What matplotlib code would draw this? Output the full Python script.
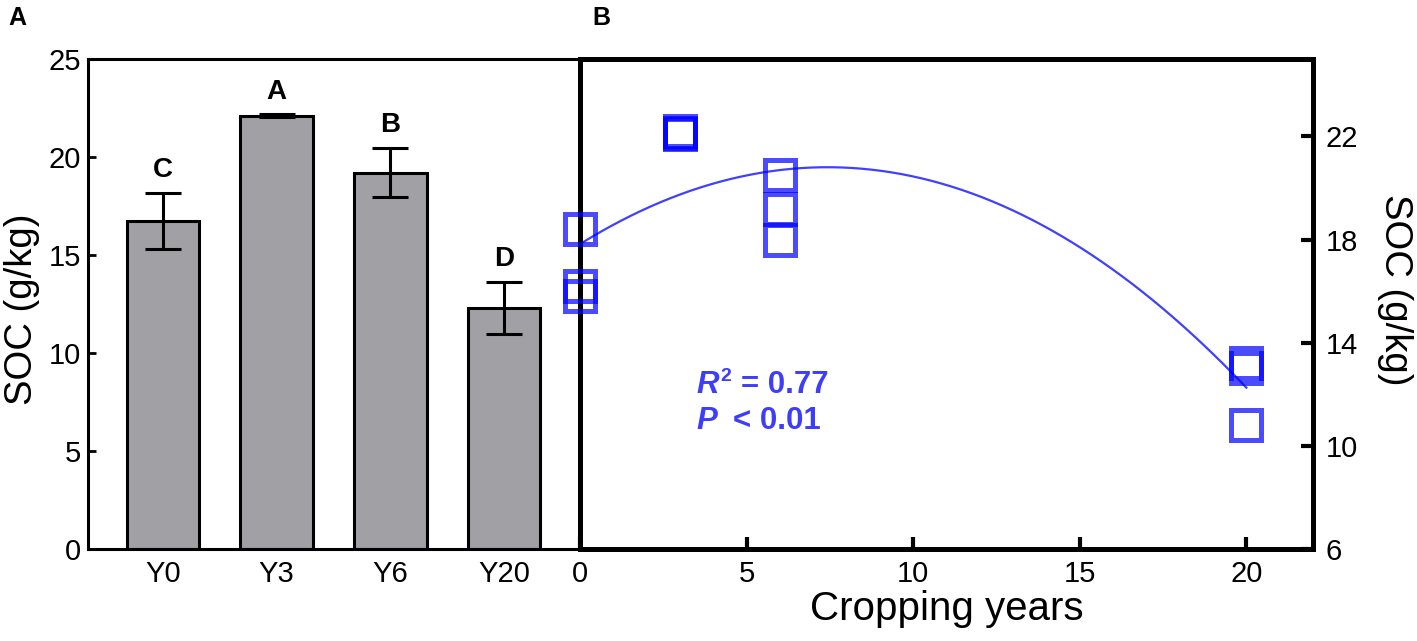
import numpy as np
import matplotlib
matplotlib.use("Agg")
import matplotlib.pyplot as plt

plt.rcParams['font.family'] = ['Liberation Sans', 'DejaVu Sans']

# ---- data ----
categories = ["Y0", "Y3", "Y6", "Y20"]
soc_mean = [16.75, 22.10, 19.20, 12.30]
soc_err = [1.43, 0.07, 1.25, 1.32]
sig_letters = ["C", "A", "B", "D"]

years = [0, 0, 0, 3, 3, 3, 6, 6, 6, 20, 20, 20]
soc_points = [18.4, 16.2, 15.8, 22.2, 22.1, 22.15, 20.5, 19.2, 18.0, 13.2, 13.0, 10.8]

r2_text = "0.77"
p_text = "0.01"

W, H = 1417, 641
fig = plt.figure(figsize=(W / 100, H / 100), dpi=100)

def fx(px):
    return px / W

def fy(py):
    return 1 - py / H

axA = fig.add_axes([fx(88), fy(549), fx(580) - fx(88), fy(59) - fy(549)])
axB = fig.add_axes([fx(580), fy(549), fx(1313) - fx(580), fy(59) - fy(549)])

# ---- Panel A ----
xpos = np.arange(len(categories))
axA.bar(xpos, soc_mean, width=0.64, color='#a1a0a5', edgecolor='black', linewidth=2.2, zorder=2)
axA.errorbar(xpos, soc_mean, yerr=soc_err, fmt='none', ecolor='black', elinewidth=2.2,
             capsize=13, capthick=2.2, zorder=3)
for x, m, e, lab in zip(xpos, soc_mean, soc_err, sig_letters):
    axA.text(x, m + e + 0.8, lab, ha='center', va='baseline', fontsize=20, fontweight='bold')
axA.set_xlim(-0.66, 3.67)
axA.set_ylim(0, 25)
axA.set_xticks(xpos)
axA.set_xticklabels(categories)
axA.set_yticks([0, 5, 10, 15, 20, 25])
axA.tick_params(axis='both', direction='in', length=6, width=2, labelsize=21)
axA.tick_params(axis='x', pad=8)
axA.tick_params(axis='y', pad=5)
for s in axA.spines.values():
    s.set_linewidth(2.2)
axA.set_ylabel("SOC (g/kg)", fontsize=27.5)
axA.yaxis.set_label_coords(-0.097, 0.49)

# ---- Panel B ----
blue = '#0000ff'
axB.plot(years, soc_points, linestyle='none', marker='s', markersize=21, markerfacecolor='none',
         markeredgecolor=blue, markeredgewidth=3.6, alpha=0.7, zorder=3, clip_on=False)
coef = np.polyfit(years, soc_points, 2)
xf = np.linspace(0, 20, 200)
axB.plot(xf, np.polyval(coef, xf), color=blue, alpha=0.75, linewidth=1.6, zorder=2)
axB.set_xlim(0, 22)
axB.set_ylim(6, 25)
axB.set_xticks([0, 5, 10, 15, 20])
axB.set_yticks([6, 10, 14, 18, 22])
axB.yaxis.tick_right()
axB.yaxis.set_label_position('right')
axB.tick_params(axis='both', direction='in', length=8.5, width=3, labelsize=21)
axB.tick_params(axis='x', pad=8)
axB.tick_params(axis='y', pad=9)
for s in axB.spines.values():
    s.set_linewidth(3.6)
axB.set_xlabel("Cropping years", fontsize=29, labelpad=1)
axB.set_ylabel("SOC (g/kg)", fontsize=27.5, rotation=-90)
axB.yaxis.set_label_coords(1.137, 0.53)

tcol = '#3d3dfa'
fs = 22.5
ax0, ay0 = 3.49, 12.06
axB.text(ax0, ay0, "R", fontsize=fs, fontweight='bold', fontstyle='italic',
         color=tcol, va='baseline', ha='left')
axB.annotate("2", xy=(ax0, ay0), xytext=(17.5, 8.6), textcoords='offset points',
             fontsize=14, fontweight='bold', color=tcol, ha='left', va='baseline')
axB.annotate("= " + r2_text, xy=(ax0, ay0), xytext=(32, 0), textcoords='offset points',
             fontsize=fs, fontweight='bold', color=tcol, ha='left', va='baseline')
axB.text(ax0, 10.66, "P", fontsize=fs, fontweight='bold', fontstyle='italic',
         color=tcol, va='baseline', ha='left')
axB.annotate("< " + p_text, xy=(ax0, 10.66), xytext=(26.5, 0), textcoords='offset points',
             fontsize=fs, fontweight='bold', color=tcol, ha='left', va='baseline')

# panel labels
fig.text(fx(8), fy(25), "A", fontsize=18, fontweight='bold', va='baseline')
fig.text(fx(592), fy(25), "B", fontsize=18, fontweight='bold', va='baseline')

fig.savefig("out.png", dpi=100)
